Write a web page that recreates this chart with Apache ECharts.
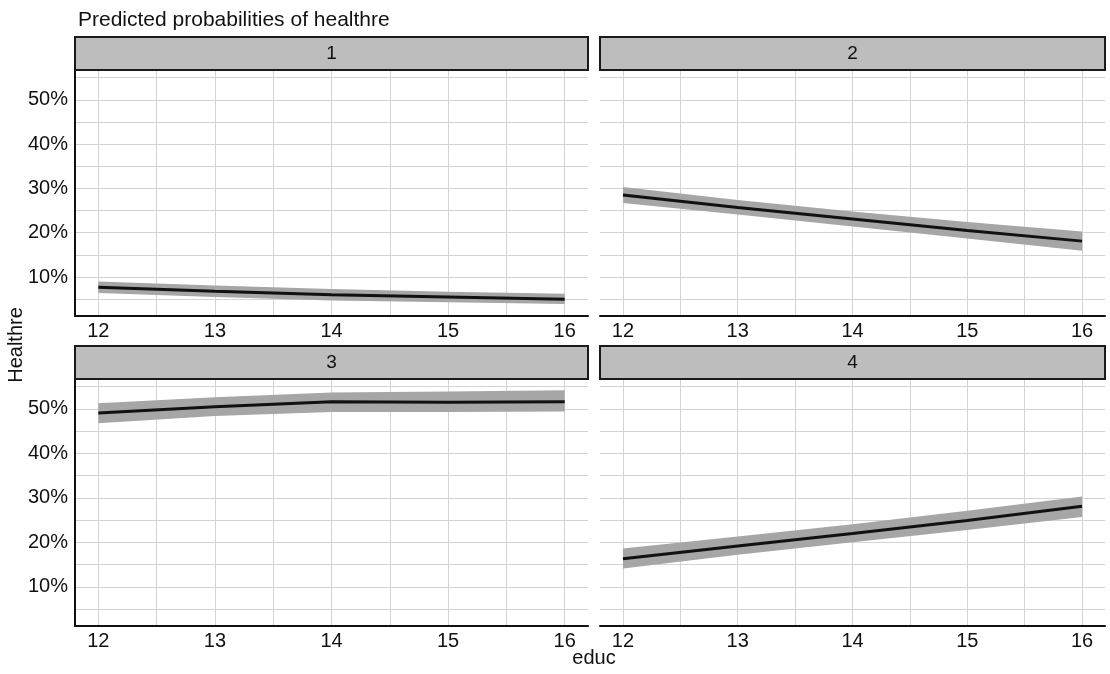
<!DOCTYPE html>
<html>
<head>
<meta charset="utf-8">
<script src="https://cdn.jsdelivr.net/npm/echarts@6/dist/echarts.min.js"></script>
<style>
  html, body { margin: 0; padding: 0; background: #fff; }
  #chart { width: 1110px; height: 674px; }
</style>
</head>
<body>
<div id="chart"></div>
<script>
/* predicted probabilities of healthre by educ, one panel per outcome */
var educ = [12, 13, 14, 15, 16];
var panelNames = ['1', '2', '3', '4'];

var fit1 = [7.7, 6.8, 6.0, 5.5, 5.0];
var low1 = [6.4, 5.5, 4.7, 4.3, 3.9];
var high1 = [9.0, 8.1, 7.3, 6.7, 6.2];

var fit2 = [28.5, 25.7, 23.1, 20.5, 18.1];
var low2 = [26.7, 24.1, 21.4, 18.7, 15.9];
var high2 = [30.3, 27.4, 24.8, 22.4, 20.3];

var fit3 = [49.1, 50.5, 51.6, 51.5, 51.6];
var low3 = [46.8, 48.4, 49.3, 49.3, 49.4];
var high3 = [51.3, 52.6, 53.7, 53.9, 54.2];

var fit4 = [16.3, 19.2, 22.0, 24.9, 28.1];
var low4 = [14.1, 17.2, 20.0, 22.8, 25.7];
var high4 = [18.6, 21.3, 24.1, 27.1, 30.3];

var xTickLabels = [12, 13, 14, 15, 16];
var xGridValues = [12, 12.5, 13, 13.5, 14, 14.5, 15, 15.5, 16];
var yTickLabels = [10, 20, 30, 40, 50];
var yGridValues = [5, 10, 15, 20, 25, 30, 35, 40, 45, 50, 55];

var fits = [fit1, fit2, fit3, fit4];
var lows = [low1, low2, low3, low4];
var highs = [high1, high2, high3, high4];

var font = 'Liberation Sans, Arial, Helvetica, sans-serif';
var boxes = [
  { left: 75, top: 71, width: 513, height: 245 },
  { left: 600, top: 71, width: 505, height: 245 },
  { left: 75, top: 380, width: 513, height: 246 },
  { left: 600, top: 380, width: 505, height: 246 }
];
var gridLine = { show: true, lineStyle: { color: '#d3d3d3', width: 1 } };

// confidence ribbon: one polygon through lower then upper bounds
function ribbon(lo, hi) {
  return function (params, api) {
    if (params.dataIndex !== 0) return null;
    var pts = [], j;
    for (j = 0; j < educ.length; j++) pts.push(api.coord([educ[j], lo[j]]));
    for (j = educ.length - 1; j >= 0; j--) pts.push(api.coord([educ[j], hi[j]]));
    return {
      type: 'polygon',
      shape: { points: pts },
      style: { fill: '#a6a6a6', stroke: null }
    };
  };
}

var grids = [], xAxes = [], yAxes = [], series = [], graphics = [];
boxes.forEach(function (b, i) {
  var leftCol = (i % 2 === 0);
  grids.push({ left: b.left, top: b.top, width: b.width, height: b.height });
  xAxes.push({
    type: 'value', gridIndex: i, min: 11.8, max: 16.2,
    axisLine: { show: true, onZero: false, lineStyle: { color: '#111', width: 2 } },
    axisTick: { show: false, customValues: xGridValues },
    axisLabel: { customValues: xTickLabels, fontSize: 20, color: '#111', fontFamily: font, margin: 5 },
    splitLine: gridLine
  });
  yAxes.push({
    type: 'value', gridIndex: i, min: 1.2, max: 56.5,
    axisLine: { show: leftCol, onZero: false, lineStyle: { color: '#111', width: 2 } },
    axisTick: { show: false, customValues: yGridValues },
    axisLabel: {
      show: leftCol, customValues: yTickLabels, fontSize: 20, color: '#111',
      fontFamily: font, margin: 7, formatter: '{value}%'
    },
    splitLine: gridLine
  });
  var lo = lows[i], hi = highs[i], fit = fits[i];
  series.push({
    type: 'custom', xAxisIndex: i, yAxisIndex: i, silent: true, z: 1,
    renderItem: ribbon(lo, hi),
    data: educ.map(function (x, j) { return [x, lo[j], hi[j]]; }),
    encode: { x: 0, y: [1, 2] }
  });
  series.push({
    type: 'line', xAxisIndex: i, yAxisIndex: i, symbol: 'none', z: 3,
    lineStyle: { color: '#111', width: 3 },
    data: educ.map(function (x, j) { return [x, fit[j]]; })
  });
  // facet strip
  graphics.push({
    type: 'rect', z: 10,
    shape: { x: b.left, y: b.top - 34, width: b.width, height: 33 },
    style: { fill: '#bdbdbd', stroke: '#1a1a1a', lineWidth: 2 }
  });
  graphics.push({
    type: 'text', z: 11, x: b.left + b.width / 2, y: b.top - 17,
    style: { text: panelNames[i], fontSize: 19, fontFamily: font, fill: '#111', align: 'center', verticalAlign: 'middle' }
  });
});

graphics.push({
  type: 'text', x: 16, y: 345, rotation: Math.PI / 2,
  style: { text: 'Healthre', fontSize: 20, fontFamily: font, fill: '#111', align: 'center', verticalAlign: 'middle' }
});
graphics.push({
  type: 'text', x: 594, y: 658,
  style: { text: 'educ', fontSize: 20, fontFamily: font, fill: '#111', align: 'center', verticalAlign: 'middle' }
});

var option = {
  animation: false,
  backgroundColor: '#fff',
  title: {
    text: 'Predicted probabilities of healthre', left: 73, top: 5,
    textStyle: { fontSize: 21, fontWeight: 'normal', color: '#111', fontFamily: font }
  },
  grid: grids,
  xAxis: xAxes,
  yAxis: yAxes,
  series: series,
  graphic: graphics
};

var chart = echarts.init(document.getElementById('chart'));
chart.setOption(option);
</script>
</body>
</html>
